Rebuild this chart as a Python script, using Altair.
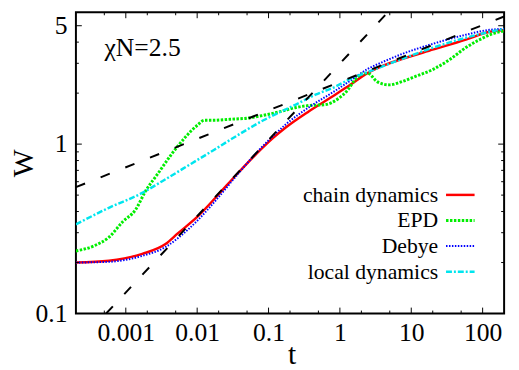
import altair as alt
import pandas as pd

# ---- data ----
series_names = ["chain dynamics", "EPD", "Debye", "local dynamics"]
series_colors = ["#ff0000", "#00ee00", "#0000ff", "#00e5ee"]

t_chain = [0.0002, 0.00058, 0.0017, 0.0036, 0.0054, 0.0101, 0.019, 0.036, 0.068, 0.116, 0.176,
           0.365, 0.859, 1.38, 2.44, 4.20, 7.19, 20.5, 58.3, 125, 200]
W_chain = [0.200, 0.205, 0.225, 0.257, 0.298, 0.373, 0.494, 0.664, 0.879, 1.089, 1.259,
           1.560, 1.954, 2.234, 2.624, 2.924, 3.170, 3.622, 4.140, 4.603, 4.721]

t_debye = [0.0002, 0.00058, 0.0017, 0.0036, 0.0054, 0.0101, 0.019, 0.036, 0.068, 0.116, 0.176,
           0.365, 0.859, 1.38, 2.44, 4.20, 7.19, 20.5, 58.3, 125, 200]
W_debye = [0.200, 0.202, 0.219, 0.247, 0.279, 0.354, 0.475, 0.655, 0.891, 1.117, 1.312,
           1.646, 2.065, 2.360, 2.771, 3.084, 3.386, 3.920, 4.423, 4.73, 4.79]

t_local = [0.0002, 0.00058, 0.0017, 0.00324, 0.00837, 0.0174, 0.0289, 0.0848, 0.2415, 0.455,
           0.859, 1.47, 2.44, 7.19, 20.5, 58.3, 171, 200]
W_local = [0.336, 0.421, 0.515, 0.604, 0.769, 0.927, 1.059, 1.383, 1.713, 1.958,
           2.180, 2.455, 2.661, 3.170, 3.718, 4.248, 4.73, 4.79]

t_epd = [0.0002, 0.000351, 0.00058, 0.00091, 0.00137, 0.00189, 0.00284, 0.00444, 0.0067, 0.0101,
         0.01265, 0.0163, 0.0289, 0.0494, 0.0848, 0.150, 0.2415, 0.365, 0.625, 0.944,
         1.297, 1.62, 2.02, 2.44, 3.36, 4.91, 7.19, 10.86, 20.5, 35.1, 58.3, 91.0, 137, 200]
W_epd = [0.234, 0.250, 0.282, 0.349, 0.410, 0.528, 0.673, 0.879, 1.089, 1.294,
         1.383, 1.383, 1.402, 1.422, 1.479, 1.560, 1.646, 1.689, 1.711, 1.853,
         2.094, 2.393, 2.592, 2.624, 2.329, 2.238, 2.329, 2.490, 2.771, 3.170, 3.718, 4.140, 4.478, 4.66]

# power-law guide lines (end points)
t_guide_steep = [0.00053, 4.7]
W_guide_steep = [0.1, 6.0]
t_guide_flat = [0.0002, 200]
W_guide_flat = [0.557, 5.67]

x_tick_labels = [0.001, 0.01, 0.1, 1, 10, 100]
x_minor = [0.0005, 0.002, 0.005, 0.02, 0.05, 0.2, 0.5, 2, 5, 20, 50]
y_tick_labels = [0.1, 1, 5]
y_major_inner = [1, 5]
y_minor = [0.2, 0.3, 0.4, 0.5, 0.6, 0.7, 0.8, 0.9, 2, 3, 4]

annotation = "χN=2.5"

# ---- layout ----
PW, PH = 435, 306
FONT = "Liberation Serif"

xscale = alt.Scale(type="log", domain=[0.0002, 200], nice=False)
yscale = alt.Scale(type="log", domain=[0.1, 6], nice=False)

xaxis = alt.Axis(values=x_tick_labels, format="~g", title="t", labelPadding=6,
                 labelFlush=False, labelOverlap=False, grid=False, domain=False, ticks=False,
                 labelFont=FONT, titleFont=FONT,
                 titleX=219, titleY=51, titleBaseline="alphabetic", titleAlign="center")
yaxis = alt.Axis(values=y_tick_labels, format="~g", title="W", labelPadding=9,
                 labelFlush=False, labelOverlap=False, grid=False, domain=False, ticks=False,
                 labelFont=FONT, titleFont=FONT,
                 titleX=-44, titleY=PH / 2, titleAngle=270, titleBaseline="alphabetic",
                 titleAlign="center")


def X(field="t"):
    return alt.X(f"{field}:Q", scale=xscale, axis=xaxis)


def Y(field="W"):
    return alt.Y(f"{field}:Q", scale=yscale, axis=yaxis)


layers = []

styles = {
    "chain dynamics": dict(strokeWidth=2.5),
    "EPD": dict(strokeWidth=3, strokeDash=[2.5, 1.5]),
    "Debye": dict(strokeWidth=2, strokeDash=[1.5, 1.5]),
    "local dynamics": dict(strokeWidth=2.5, strokeDash=[6, 2, 2, 2]),
}
data_map = {
    "chain dynamics": (t_chain, W_chain),
    "EPD": (t_epd, W_epd),
    "Debye": (t_debye, W_debye),
    "local dynamics": (t_local, W_local),
}

for name, col in zip(series_names, series_colors):
    tt, ww = data_map[name]
    df = pd.DataFrame({"t": tt, "W": ww})
    layers.append(
        alt.Chart(df).mark_line(color=col, clip=True, interpolate="monotone", **styles[name])
        .encode(x=X(), y=Y())
    )

for tt, ww in [(t_guide_steep, W_guide_steep), (t_guide_flat, W_guide_flat)]:
    df = pd.DataFrame({"t": tt, "W": ww})
    layers.append(
        alt.Chart(df).mark_line(color="black", strokeWidth=2, strokeDash=[10, 17], clip=True)
        .encode(x=X(), y=Y())
    )

# inward ticks on all four sides
for vals, L in [(y_major_inner, 6), (y_minor, 3)]:
    df = pd.DataFrame({"W": vals})
    layers.append(alt.Chart(df).mark_rule(color="black", strokeWidth=1)
                  .encode(y=Y(), x=alt.value(0), x2=alt.value(L)))
    layers.append(alt.Chart(df).mark_rule(color="black", strokeWidth=1)
                  .encode(y=Y(), x=alt.value(PW), x2=alt.value(PW - L)))
for vals, L in [(x_tick_labels, 6), (x_minor, 3)]:
    df = pd.DataFrame({"t": vals})
    layers.append(alt.Chart(df).mark_rule(color="black", strokeWidth=1)
                  .encode(x=X(), y=alt.value(PH), y2=alt.value(PH - L)))
    layers.append(alt.Chart(df).mark_rule(color="black", strokeWidth=1)
                  .encode(x=X(), y=alt.value(0), y2=alt.value(L)))

# legend (text left of sample line, gnuplot style)
for i, (name, col) in enumerate(zip(series_names, series_colors)):
    row_y = 185.5 + 26 * i
    ldf = pd.DataFrame({"series": [name]})
    layers.append(alt.Chart(ldf).mark_text(align="right", baseline="middle", font=FONT,
                                           fontSize=22, color="black")
                  .encode(text="series:N", x=alt.value(368), y=alt.value(row_y)))
    layers.append(alt.Chart(ldf).mark_rule(color=col, **styles[name])
                  .encode(x=alt.value(376), x2=alt.value(405), y=alt.value(row_y)))

adf = pd.DataFrame({"label": [annotation]})
layers.append(alt.Chart(adf).mark_text(align="left", baseline="alphabetic", font=FONT,
                                       fontSize=26, color="black")
              .encode(text="label:N", x=alt.value(29), y=alt.value(44.5)))

chart = (
    alt.layer(*layers)
    .properties(width=PW, height=PH, background="white",
                autosize=alt.AutoSizeParams(type="none"),
                padding={"left": 69, "top": 1.5, "right": 7, "bottom": 54})
    .configure_view(stroke="black", strokeWidth=2)
    .configure_axis(labelFontSize=26, labelColor="black",
                    titleFontSize=30, titleColor="black",
                    titleFontWeight="normal")
)

chart.save("out.html", embed_options={"renderer": "svg", "actions": False})
